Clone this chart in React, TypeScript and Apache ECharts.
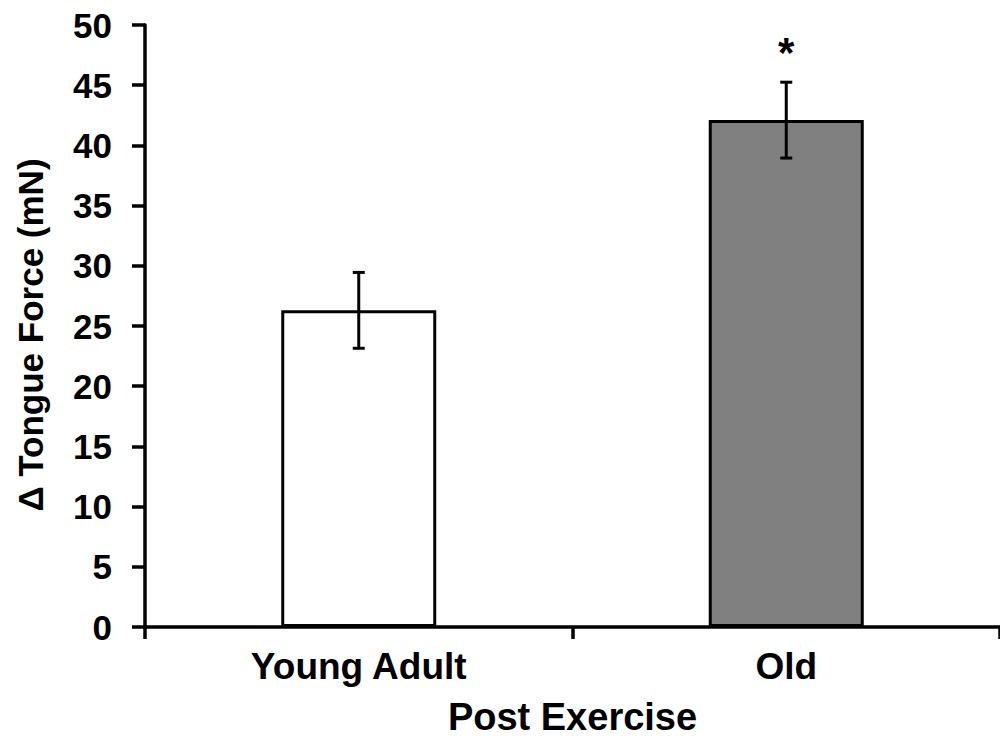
import React, { useEffect, useRef } from "react";
import * as echarts from "echarts";

const categories = ["Young Adult", "Old"];
const means = [26.3, 42.1];
const errors = [3.15, 3.15];
const barColors = ["#ffffff", "#808080"];
const sigMarks = ["", "*"];
const yTicks = { min: 0, max: 50, interval: 5 };
const yTitle = "Δ Tongue Force (mN)";
const xTitle = "Post Exercise";

const FONT = "'Liberation Sans', Arial, sans-serif";

export default function App() {
  const ref = useRef<HTMLDivElement>(null);
  useEffect(() => {
    if (!ref.current) return;
    const chart = echarts.init(ref.current, undefined, { renderer: "svg" });
    const errData = means.map((m, i) => [i, m - errors[i], m + errors[i], sigMarks[i]]);
    chart.setOption({
      animation: false,
      backgroundColor: "#ffffff",
      grid: { left: 145, top: 25, width: 862, height: 603, containLabel: false },
      graphic: [
        {
          type: "text",
          x: 30,
          y: 335,
          rotation: Math.PI / 2,
          style: {
            text: yTitle,
            fill: "#000",
            font: `bold 35px ${FONT}`,
            textAlign: "center",
            textVerticalAlign: "middle",
          },
        },
      ],
      xAxis: {
        type: "category",
        data: categories,
        name: xTitle,
        nameLocation: "middle",
        nameGap: 71,
        nameTextStyle: { fontFamily: FONT, fontWeight: "bold", fontSize: 38, color: "#000" },
        axisLine: { lineStyle: { color: "#000", width: 3.5 } },
        axisTick: { show: true, length: 12, alignWithLabel: false, lineStyle: { color: "#000", width: 3.5 } },
        axisLabel: { fontFamily: FONT, fontWeight: "bold", fontSize: 37, color: "#000", margin: 21 },
        splitLine: { show: false },
      },
      yAxis: {
        type: "value",
        min: yTicks.min,
        max: yTicks.max,
        interval: yTicks.interval,
        axisLine: { show: true, lineStyle: { color: "#000", width: 3.5 } },
        axisTick: { show: true, length: 13, lineStyle: { color: "#000", width: 3.5 } },
        axisLabel: { fontFamily: FONT, fontWeight: "bold", fontSize: 35, color: "#000", margin: 33 },
        splitLine: { show: false },
      },
      series: [
        {
          type: "bar",
          barWidth: 155,
          data: means.map((v, i) => ({
            value: v,
            itemStyle: { color: barColors[i], borderColor: "#000", borderWidth: 3 },
          })),
        },
        {
          type: "custom",
          data: errData,
          z: 10,
          renderItem: (params: any, api: any) => {
            const x = api.value(0);
            const lo = api.coord([x, api.value(1)]);
            const hi = api.coord([x, api.value(2)]);
            const mark = sigMarks[params.dataIndex];
            const cap = 6;
            const style = { stroke: "#000", lineWidth: 3 };
            const children: any[] = [
              { type: "line", shape: { x1: lo[0], y1: lo[1], x2: hi[0], y2: hi[1] }, style },
              { type: "line", shape: { x1: lo[0] - cap, y1: lo[1], x2: lo[0] + cap, y2: lo[1] }, style },
              { type: "line", shape: { x1: hi[0] - cap, y1: hi[1], x2: hi[0] + cap, y2: hi[1] }, style },
            ];
            if (mark) {
              children.push({
                type: "text",
                x: hi[0],
                y: hi[1] - 9,
                style: {
                  text: mark,
                  fill: "#000",
                  font: `bold 42px ${FONT}`,
                  textAlign: "center",
                  textVerticalAlign: "bottom",
                },
              });
            }
            return { type: "group", children };
          },
        },
      ],
    });
    return () => chart.dispose();
  }, []);
  return (
    <div
      ref={ref}
      style={{ position: "fixed", left: 0, top: 0, width: 1000, height: 741, background: "#fff" }}
    />
  );
}
